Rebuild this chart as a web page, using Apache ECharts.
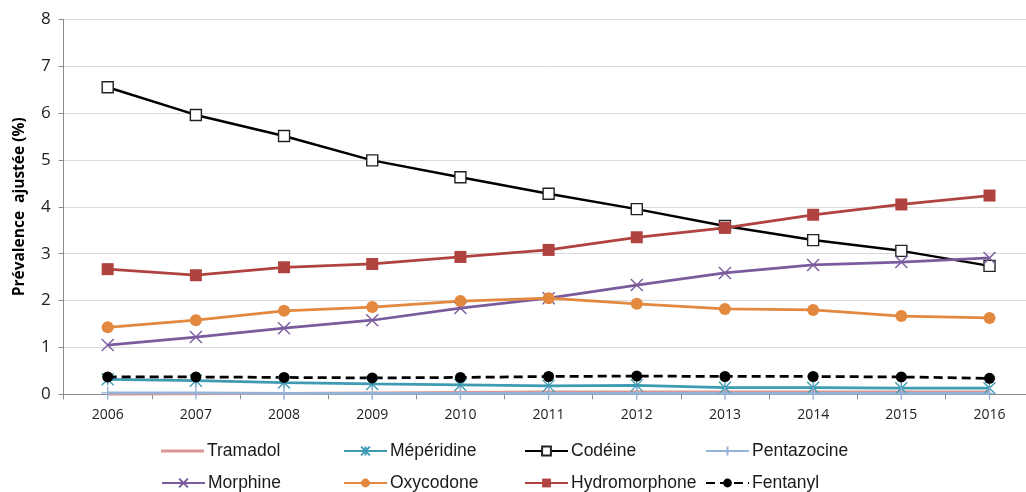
<!DOCTYPE html>
<html>
<head>
<meta charset="utf-8">
<script src="https://cdn.jsdelivr.net/npm/echarts@6/dist/echarts.min.js"></script>
<style>
  html, body { margin: 0; padding: 0; background: #fff; }
  #chart { width: 1026px; height: 492px; }
</style>
</head>
<body>
<div id="chart"></div>
<script>
// Prévalence ajustée des opioïdes prescrits, 2006–2016
const years = ['2006','2007','2008','2009','2010','2011','2012','2013','2014','2015','2016'];
const yTicks = [0, 1, 2, 3, 4, 5, 6, 7, 8];

const tramadol      = [0.00, 0.01, 0.02, 0.03, 0.04, 0.05, 0.05, 0.05, 0.05, 0.05, 0.05];
const meperidine    = [0.32, 0.29, 0.25, 0.22, 0.20, 0.18, 0.19, 0.14, 0.14, 0.13, 0.13];
const codeine       = [6.55, 5.96, 5.51, 4.99, 4.63, 4.28, 3.95, 3.59, 3.29, 3.06, 2.74];
const pentazocine   = [0.03, 0.03, 0.02, 0.02, 0.02, 0.02, 0.02, 0.02, 0.02, 0.02, 0.02];
const morphine      = [1.05, 1.22, 1.41, 1.58, 1.84, 2.05, 2.33, 2.59, 2.76, 2.82, 2.91];
const oxycodone     = [1.43, 1.58, 1.78, 1.86, 1.99, 2.05, 1.93, 1.82, 1.80, 1.67, 1.63];
const hydromorphone = [2.67, 2.54, 2.71, 2.78, 2.93, 3.08, 3.35, 3.55, 3.83, 4.05, 4.24];
const fentanyl      = [0.37, 0.37, 0.36, 0.35, 0.36, 0.38, 0.39, 0.38, 0.38, 0.37, 0.34];

const STAR  = 'path://M0,0L10,10M10,0L0,10M5,0L5,10';
const CROSS = 'path://M0,0L10,10M10,0L0,10';
const PLUS  = 'path://M5,0L5,10M0,5L10,5';

function lineSeries(name, data, color, opts) {
  const o = opts || {};
  return {
    name: name,
    type: 'line',
    data: data,
    color: color,
    symbol: o.symbol || 'none',
    symbolSize: o.size || 10,
    showSymbol: !!o.symbol,
    lineStyle: { color: color, width: o.width || 2.75, type: o.dash || 'solid' },
    itemStyle: o.stroke
      ? { color: o.fill || 'rgba(0,0,0,0)', borderColor: o.strokeColor || color, borderWidth: o.stroke }
      : { color: color },
    emphasis: { disabled: true },
    animation: false
  };
}

const series = [
  lineSeries('Tramadol', tramadol, '#D99694'),
  lineSeries('Mépéridine', meperidine, '#3E9BB3', { symbol: STAR, size: 12, stroke: 1.3 }),
  lineSeries('Codéine', codeine, '#000000', { symbol: 'rect', size: 11, stroke: 1.4, fill: '#ffffff', strokeColor: '#222', width: 2.5 }),
  lineSeries('Pentazocine', pentazocine, '#95B3D7', { symbol: PLUS, size: 13, stroke: 1.4 }),
  lineSeries('Morphine', morphine, '#7A5C9E', { symbol: CROSS, size: 12, stroke: 1.4 }),
  lineSeries('Oxycodone', oxycodone, '#E3883F', { symbol: 'circle', size: 12 }),
  lineSeries('Hydromorphone', hydromorphone, '#B0433F', { symbol: 'rect', size: 12 }),
  lineSeries('Fentanyl', fentanyl, '#000000', { symbol: 'circle', size: 11, dash: [9, 5] })
];

// Legend laid out as a 4 x 2 table, one legend block per series
const legendCols = [161, 343, 524, 705];
const legendRows = [451, 483];
const legends = series.map((s, i) => {
  const lineOnly = s.symbol === 'none';
  return {
    data: [lineOnly ? { name: s.name, icon: 'rect' } : s.name],
    left: legendCols[i % 4],
    top: legendRows[Math.floor(i / 4)] - 9,
    padding: 0,
    itemWidth: 43,
    itemHeight: lineOnly ? 3 : 11,
    selectedMode: false,
    textStyle: { fontSize: 17.5, fontFamily: '"Liberation Sans", Arial, sans-serif', color: '#1a1a1a', padding: [0, 0, 0, -2] }
  };
});

const chart = echarts.init(document.getElementById('chart'), null, { renderer: 'canvas' });
chart.setOption({
  backgroundColor: '#ffffff',
  animation: false,
  legend: legends,
  grid: { left: 63.6, top: 19.3, width: 970, height: 375, containLabel: false, outerBoundsMode: 'none' },
  xAxis: {
    type: 'category',
    data: years,
    boundaryGap: true,
    axisLine: { lineStyle: { color: '#8a8a8a', width: 1 } },
    axisTick: { show: true, length: 5, lineStyle: { color: '#8a8a8a' } },
    axisLabel: { color: '#222', fontSize: 14, fontFamily: '"Open Sans", sans-serif', margin: 14 },
    splitLine: { show: false }
  },
  yAxis: {
    type: 'value',
    min: yTicks[0],
    max: yTicks[yTicks.length - 1],
    interval: 1,
    name: 'Prévalence  ajustée (%)',
    nameLocation: 'middle',
    nameGap: 36,
    nameTextStyle: { fontSize: 15.5, fontWeight: 'bold', color: '#000', fontFamily: '"Open Sans", sans-serif' },
    axisLine: { show: true, lineStyle: { color: '#8a8a8a', width: 1 } },
    axisTick: { show: true, length: 5, inside: false, lineStyle: { color: '#8a8a8a' } },
    axisLabel: { color: '#222', fontSize: 17, fontFamily: '"Open Sans", sans-serif', margin: 13 },
    splitLine: { lineStyle: { color: '#d9d9d9', width: 1 } }
  },
  series: series
});
</script>
</body>
</html>
